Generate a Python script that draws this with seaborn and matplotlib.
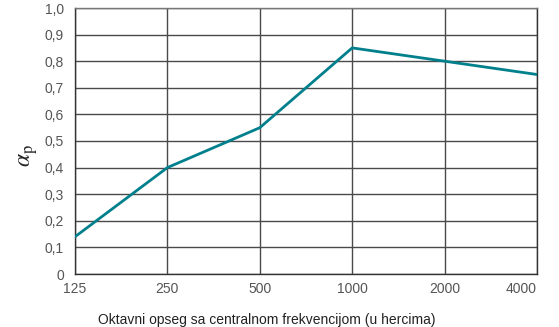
import matplotlib
matplotlib.use("Agg")
import matplotlib.pyplot as plt
import seaborn as sns
import pandas as pd
from matplotlib import font_manager

# Octave bands and absorption coefficients
frequencies = ["125", "250", "500", "1000", "2000", "4000"]
alpha_p = [0.14, 0.40, 0.55, 0.85, 0.80, 0.75]
y_ticks = [0, 0.1, 0.2, 0.3, 0.4, 0.5, 0.6, 0.7, 0.8, 0.9, 1.0]
y_tick_labels = ["0", "0,1", "0,2", "0,3", "0,4", "0,5", "0,6", "0,7", "0,8", "0,9", "1,0"]

sns.set_style("white")
names = {f.name for f in font_manager.fontManager.ttflist}
family = "Liberation Sans Narrow" if "Liberation Sans Narrow" in names else "Liberation Sans"
plt.rcParams["font.family"] = [family, "DejaVu Sans"]
plt.rcParams["mathtext.fontset"] = "stix"

df = pd.DataFrame({"pos": range(len(frequencies)), "alpha": alpha_p})

fig = plt.figure(figsize=(5.59, 3.27), dpi=100)
ax = fig.add_axes([75 / 559, 1 - 274 / 327, 462 / 559, 266 / 327])

sns.lineplot(data=df, x="pos", y="alpha", ax=ax, color="#00808c", linewidth=2.0, zorder=3)

ax.set_xlim(0, len(frequencies) - 1)
ax.set_ylim(0, 1.0)
ax.set_xticks(range(len(frequencies)))
ax.set_xticklabels(frequencies)
ax.set_yticks(y_ticks)
ax.set_yticklabels(y_tick_labels)
ax.tick_params(axis="both", length=0, labelsize=10, labelcolor="#555555")
ax.tick_params(axis="x", pad=6)
ax.tick_params(axis="y", pad=8)
xt = ax.get_xticklabels()
xt[-1].set_horizontalalignment("right")
xt[-1].set_x(len(frequencies) - 1)

ax.grid(True, color="#4a4a4a", linewidth=1.0)
for side in ["left", "bottom", "right", "top"]:
    ax.spines[side].set_visible(True)
    ax.spines[side].set_color("#333333")
    ax.spines[side].set_linewidth(1.0)
ax.spines["top"].set_color("#777777")

ax.set_xlabel("Oktavni opseg sa centralnom frekvencijom (u hercima)", fontsize=10, color="#222222")
ax.xaxis.set_label_coords(0.416, -0.148)
ax.set_ylabel(r"$\alpha_{\mathrm{p}}$", fontsize=17, color="#222222", rotation=90)
ax.yaxis.set_label_coords(-0.075, 0.445)

fig.savefig("out.png", dpi=100)
